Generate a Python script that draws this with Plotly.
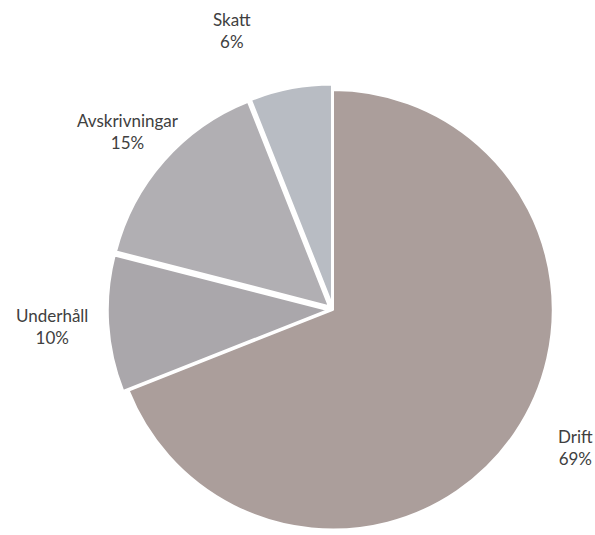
import plotly.graph_objects as go

labels = ["Drift", "Underhåll", "Avskrivningar", "Skatt"]
values = [69, 10, 15, 6]
pct_text = ["69%", "10%", "15%", "6%"]
colors = ["#ab9e9b", "#aaa7ab", "#b1afb3", "#b8bcc3"]
pulls = [0, 0.025, 0.025, 0.025]

# label anchor positions (paper coords, fraction of 595x535)
label_pos = {
    "Drift": (575 / 595, 1 - 447 / 535),
    "Underhåll": (52 / 595, 1 - 326 / 535),
    "Avskrivningar": (128 / 595, 1 - 132 / 535),
    "Skatt": (232 / 595, 1 - 30 / 535),
}

fig = go.Figure(go.Pie(
    labels=labels,
    values=values,
    sort=False,
    direction="clockwise",
    rotation=0,
    pull=pulls,
    textinfo="none",
    hoverinfo="label+percent",
    marker=dict(colors=colors, line=dict(color="white", width=2)),
    domain=dict(x=[107.5 / 595, 558.5 / 595], y=[0, 1 - 84.5 / 535]),
    showlegend=False,
))

for lab, pt in zip(labels, pct_text):
    x, y = label_pos[lab]
    fig.add_annotation(
        x=x, y=y, xref="paper", yref="paper",
        text=f"{lab}<br>{pt}", showarrow=False,
        xanchor="center", yanchor="middle",
        font=dict(family="Lato, Open Sans, sans-serif", size=17, color="#404040"),
    )

fig.update_layout(
    width=595, height=535,
    margin=dict(l=0, r=0, t=0, b=0),
    paper_bgcolor="white", plot_bgcolor="white",
)

fig.write_html("out.html")
